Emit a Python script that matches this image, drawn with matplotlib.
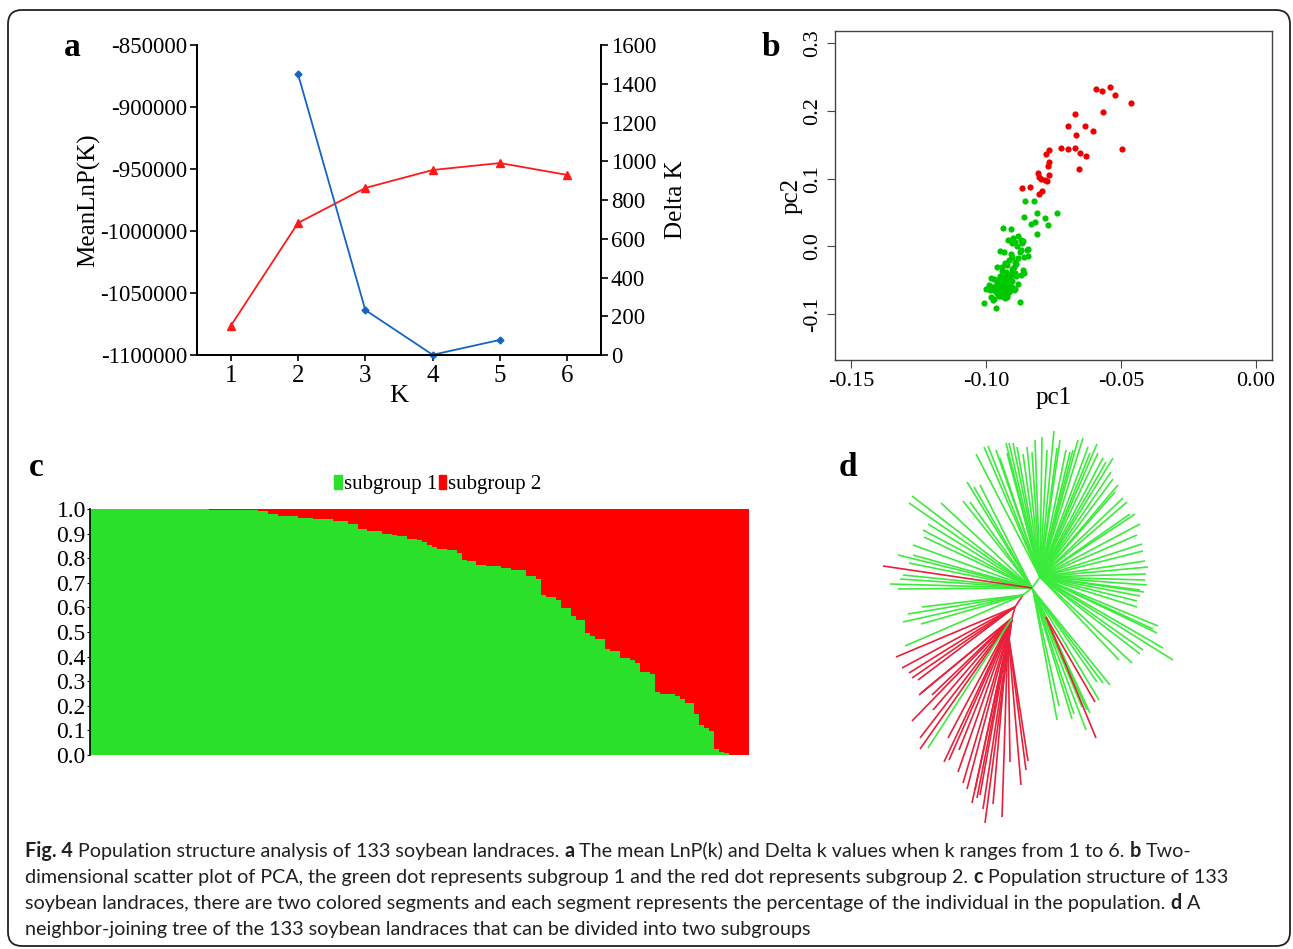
import numpy as np
import matplotlib
matplotlib.use('Agg')
import matplotlib.pyplot as plt
from matplotlib import font_manager
from matplotlib.patches import FancyBboxPatch, Patch
from matplotlib.collections import LineCollection

W, H = 1293, 949

# ---------------- data ----------------
# a: choice of K
k_values = [1, 2, 3, 4, 5, 6]
mean_lnp = [-1076600, -993500, -965300, -950800, -945200, -954800]
delta_k_pos = [2, 3, 4, 5]
delta_k = [1450, 232, 1, 78]

# b: PCA
red_pc1 = [-0.0592, -0.0570, -0.0539, -0.0523, -0.0463, -0.0568, -0.0669, -0.0697,
           -0.0634, -0.0603, -0.0666, -0.0496, -0.0724, -0.0697, -0.0669, -0.0650,
           -0.0628, -0.0656, -0.0765, -0.0777, -0.0765, -0.0769, -0.0808, -0.0804,
           -0.0798, -0.0767, -0.0783, -0.0773, -0.0794, -0.0802, -0.0868, -0.0838]
red_pc2 = [0.232, 0.229, 0.235, 0.223, 0.211, 0.198, 0.195, 0.178,
           0.178, 0.171, 0.165, 0.144, 0.145, 0.144, 0.145, 0.138,
           0.133, 0.114, 0.142, 0.137, 0.124, 0.119, 0.108, 0.103,
           0.0995, 0.105, 0.098, 0.0966, 0.0818, 0.0778, 0.0867, 0.0872]
green_pc1 = [-0.0854, -0.0824, -0.0860, -0.0811, -0.0781, -0.0736, -0.0832, -0.0820,
             -0.0769, -0.0811, -0.0937, -0.0909, -0.0881, -0.0918, -0.0905, -0.0893,
             -0.0863, -0.0866, -0.0948, -0.0933, -0.0872, -0.0846, -0.0860, -0.0909,
             -0.0903, -0.0930, -0.0921, -0.0893, -0.0888, -0.0940, -0.0958, -0.0903,
             -0.0891, -0.0863, -0.0860, -0.0909, -0.0982, -0.0970, -0.0958, -0.0946,
             -0.0924, -0.0933, -0.0988, -0.0976, -0.0964, -0.0952, -0.0940, -0.0927,
             -0.0915, -0.0903, -0.0891, -0.1001, -0.0970, -0.0958, -0.0946, -0.0933,
             -0.0921, -0.0897, -0.0982, -0.0970, -0.0952, -0.0933, -0.0921, -0.1007,
             -0.0976, -0.0964, -0.0875,
             -0.0960, -0.0950, -0.0945, -0.0935, -0.0925, -0.0915, -0.0955, -0.0965,
             -0.0940, -0.0930, -0.0920, -0.0910, -0.0935, -0.0950, -0.0905, -0.0895,
             -0.0915, -0.0880, -0.0875, -0.0885, -0.0870, -0.0900, -0.0850, -0.0890,
             -0.0880, -0.0945, -0.0955, -0.0985, -0.0925, -0.0940, -0.0960, -0.0905,
             -0.0930, -0.0915, -0.0870, -0.0845]
green_pc2 = [0.0670, 0.0670, 0.0438, 0.0497, 0.0414, 0.0497, 0.0330, 0.0365,
             0.0315, 0.0182, 0.0276, 0.0256, 0.0153, 0.0093, 0.0054, 0.0069,
             0.0084, 0.0044, -0.0064, -0.0089, -0.0055, -0.0143, -0.0163, -0.0114,
             -0.0163, -0.0242, -0.0276, -0.0227, -0.0262, -0.0301, -0.0301, -0.0375,
             -0.0390, -0.0350, -0.0390, -0.0424, -0.0474, -0.0488, -0.0498, -0.0474,
             -0.0459, -0.0523, -0.0572, -0.0597, -0.0587, -0.0621, -0.0607, -0.0587,
             -0.0572, -0.0607, -0.0636, -0.0636, -0.0646, -0.0685, -0.0705, -0.0671,
             -0.0720, -0.0646, -0.0745, -0.0784, -0.0735, -0.0745, -0.0755, -0.0843,
             -0.0794, -0.0917, -0.0819,
             -0.0540, -0.0560, -0.0650, -0.0690, -0.0640, -0.0600, -0.0600, -0.0680,
             -0.0580, -0.0550, -0.0500, -0.0470, -0.0450, -0.0440, -0.0330, -0.0300,
             -0.0200, -0.0180, -0.0080, 0.0010, 0.0100, 0.0120, -0.0060, -0.0440,
             -0.0560, -0.0730, -0.0700, -0.0650, -0.0380, -0.0360, -0.0660, -0.0520,
             -0.0760, -0.0680, -0.0420, -0.0040]

# c: membership of subgroup 1 for the 133 landraces (sorted)
subgroup1_q = ([1.0] * 24 + [0.996] * 10 + [0.99] * 2 + [0.98] * 2 + [0.97] * 4 +
               [0.965] * 3 + [0.96] * 4 + [0.95] * 3 + [0.94] * 2 + [0.92] * 2 +
               [0.91] * 3 + [0.90] * 2 + [0.895] +
               [0.889] * 2 + [0.878] * 2 + [0.876, 0.865, 0.855, 0.846] +
               [0.838] * 2 + [0.832] * 2 + [0.821, 0.794] + [0.787] * 2 +
               [0.774] * 2 + [0.767] * 3 + [0.760] * 2 + [0.751] * 3 +
               [0.729] * 2 + [0.715, 0.652] + [0.642] * 2 + [0.631] +
               [0.597] * 2 + [0.566] + [0.550] * 2 + [0.495, 0.482] +
               [0.471] * 2 + [0.430] + [0.421] * 2 + [0.394] * 2 + [0.387, 0.376] +
               [0.338] * 2 + [0.330, 0.258] + [0.248] * 3 + [0.240, 0.227] +
               [0.210] * 2 + [0.167, 0.122, 0.109, 0.099, 0.023, 0.014, 0.007] +
               [0.0] * 4)

# d: neighbour-joining tree (layout units = picture pixels)
node_x = [1040, 1032, 1023, 1015, 1012, 1033, 1046, 1008]
node_y = [577, 588, 595, 607, 618, 590, 617, 632]
node_parent = [-1, 0, 1, 2, 3, 1, 5, 4]
node_group = [1, 1, 1, 2, 2, 1, 1, 2]

leaf_x = [976, 984, 988, 996, 1006, 1009, 1007, 1013, 1017, 1023, 1027, 1032, 1035, 1042,
          1047, 1054, 1057, 1066, 1070, 1073, 1078, 1083, 1090, 1097, 1098, 1103, 1106,
          1113, 1111, 1113, 1115, 1123, 1127, 1130, 1135, 1140, 1137, 1142, 1143, 1145,
          1148, 1146, 1145, 1147, 1144, 1000, 1060, 1088, 1118,
          1140, 1140, 1137, 1137, 1158, 1153, 1157, 1163, 1173, 1143, 1140, 1132, 1119,
          1057, 1072, 1074, 1059, 1086, 1099, 1110, 1103, 1097, 1090, 1087, 1082,
          1096, 1095,
          967, 974, 980, 970, 963, 941, 912, 909, 928, 923, 924, 913, 913, 898, 909,
          903, 900, 890, 898, 883,
          922, 908, 903, 921, 905,
          896, 902, 909, 912, 918,
          919, 921, 932, 912, 920, 920, 933, 944, 948, 949, 958, 959, 963, 967, 972,
          977, 980, 983, 985, 975, 928,
          993, 1002, 1010, 1021, 1026, 1028]
leaf_y = [454, 447, 446, 450, 443, 443, 453, 443, 447, 454, 447, 452, 440, 437,
          450, 431, 448, 450, 452, 450, 440, 438, 453, 444, 453, 458, 462,
          458, 472, 479, 492, 498, 502, 514, 514, 524, 535, 544, 551, 561,
          567, 574, 580, 585, 592, 458, 440, 447, 485,
          590, 596, 601, 607, 626, 629, 633, 648, 660, 650, 654, 663, 660,
          720, 719, 714, 706, 730, 700, 685, 683, 682, 713, 710, 707,
          738, 702,
          482, 487, 485, 502, 501, 503, 496, 503, 524, 530, 537, 545, 555, 555, 563,
          575, 579, 584, 589, 566,
          607, 614, 622, 624, 646,
          657, 668, 673, 678, 680,
          695, 693, 695, 721, 738, 749, 710, 762, 738, 760, 772, 750, 783, 789, 803,
          798, 795, 809, 823, 790, 748,
          804, 817, 762, 785, 770, 761]
leaf_node = [0] * 49 + [0] * 13 + [5] * 12 + [6] * 2 + [1] * 20 + [2] * 5 + [3] * 5 + [4] * 21 + [7] * 6
leaf_group = ([1] * 49 + [1] * 13 + [1] * 12 + [2] * 2 + [1] * 19 + [2] + [1] * 5 +
              [2] * 5 + [2] * 20 + [1] + [2] * 6)

# ---------------- style ----------------
plt.rcParams['font.family'] = ['Liberation Serif', 'DejaVu Serif']
plt.rcParams['axes.unicode_minus'] = False

names = {f.name for f in font_manager.fontManager.ttflist}
if 'Liberation Sans Narrow' in names:
    cap_font = 'Liberation Sans Narrow'
elif 'Lato' in names:
    cap_font = 'Lato'
else:
    cap_font = 'Open Sans'

fig = plt.figure(figsize=(W / 100, H / 100), dpi=100)


def rect(x0, y0, x1, y1):
    return [x0 / W, 1 - y1 / H, (x1 - x0) / W, (y1 - y0) / H]


# background layer: frame, panel letters, caption
bg = fig.add_axes([0, 0, 1, 1])
bg.set_xlim(0, W)
bg.set_ylim(H, 0)
bg.axis('off')
bg.add_patch(FancyBboxPatch((8, 10), 1282, 936, boxstyle='round,pad=0,rounding_size=14',
                            fill=False, lw=1.3, ec='#222222'))
for letter, lx, ly in [('a', 72, 47), ('b', 771, 47), ('c', 36, 467), ('d', 848, 467)]:
    bg.text(lx, ly, letter, fontsize=24, fontweight='bold', ha='center', va='center')

# ---------------- a ----------------
ax_a = fig.add_axes(rect(197, 45, 601, 355))
ax_a.plot(k_values, mean_lnp, color='#FF1A1A', lw=1.3, marker='^', ms=5.5, clip_on=False)
ax_a.set_xlim(0.5, 6.5)
ax_a.set_ylim(-1100000, -850000)
lnp_ticks = list(range(-1100000, -849999, 50000))
ax_a.set_yticks(lnp_ticks)
ax_a.set_yticklabels([str(v) for v in lnp_ticks])
ax_a.set_xticks(k_values)
ax_a.spines['top'].set_visible(False)
for s in ax_a.spines.values():
    s.set_linewidth(1.3)
ax_a.tick_params(axis='y', labelsize=16.5, length=5, width=1.2, pad=2)
ax_a.tick_params(axis='x', labelsize=18, length=4, width=1.2, pad=3)
ax_a.set_ylabel('MeanLnP(K)', fontsize=18, labelpad=0)
ax_a.set_xlabel('K', fontsize=19, labelpad=-1)

ax_a2 = ax_a.twinx()
ax_a2.plot(delta_k_pos, delta_k, color='#1565C0', lw=1.3, marker='D', ms=3.5, clip_on=False)
ax_a2.set_ylim(0, 1600)
ax_a2.set_yticks(range(0, 1601, 200))
ax_a2.spines['top'].set_visible(False)
for s in ax_a2.spines.values():
    s.set_linewidth(1.3)
ax_a2.tick_params(labelsize=16.5, length=5, width=1.2, pad=2)
ax_a2.set_ylabel('Delta K', fontsize=18, labelpad=6)

# ---------------- b ----------------
ax_b = fig.add_axes(rect(835, 31, 1272, 360))
ax_b.scatter(green_pc1, green_pc2, s=20, color='#00C800', linewidths=0)
ax_b.scatter(red_pc1, red_pc2, s=20, color='#EE0000', linewidths=0)
ax_b.set_xlim(-0.156, 0.006)
ax_b.set_ylim(-0.168, 0.318)
ax_b.set_xticks([-0.15, -0.10, -0.05, 0.00])
ax_b.set_xticklabels(['-0.15', '-0.10', '-0.05', '0.00'])
ax_b.set_yticks([-0.1, 0.0, 0.1, 0.2, 0.3])
ax_b.set_yticklabels(['-0.1', '0.0', '0.1', '0.2', '0.3'], rotation=90, va='center')
for s in ax_b.spines.values():
    s.set_color('#444444')
    s.set_linewidth(1.0)
ax_b.tick_params(labelsize=16, length=6, color='#444444', pad=3)
ax_b.set_xlabel('pc1', fontsize=18, labelpad=-3)
ax_b.set_ylabel('pc2', fontsize=18, labelpad=1)

# ---------------- c ----------------
ax_c = fig.add_axes(rect(90, 509, 749, 755))
q = np.array(subgroup1_q)
edges = np.arange(len(q) + 1)
ax_c.stairs(q, edges, baseline=0, fill=True, color='#2BE02B')
ax_c.stairs(np.ones(len(q)), edges, baseline=q, fill=True, color='#FF0000')
ax_c.set_xlim(0, len(q))
ax_c.set_ylim(0, 1)
for side in ['top', 'right', 'bottom']:
    ax_c.spines[side].set_visible(False)
ax_c.spines['left'].set_linewidth(1.2)
ax_c.set_xticks([])
ax_c.set_yticks(np.arange(0, 1.01, 0.1))
ax_c.set_yticklabels(['%.1f' % v for v in np.arange(0, 1.01, 0.1)])
ax_c.tick_params(labelsize=17, length=2, pad=1)
ax_c.legend(handles=[Patch(color='#2BE02B', label='subgroup 1'),
                     Patch(color='#FF0000', label='subgroup 2')],
            ncol=2, loc='center', bbox_to_anchor=(0.528, 1.10), frameon=False,
            fontsize=15, handlelength=0.35, handleheight=0.7, handletextpad=0.1,
            columnspacing=0.1, borderpad=0)

# ---------------- d ----------------
ax_d = fig.add_axes(rect(860, 425, 1200, 830))
ax_d.set_xlim(860, 1200)
ax_d.set_ylim(830, 425)
ax_d.axis('off')
tree_colors = {1: '#3DEB3D', 2: '#E8203A'}
segs, cols = [], []
for i, p in enumerate(node_parent):
    if p >= 0:
        segs.append([(node_x[p], node_y[p]), (node_x[i], node_y[i])])
        cols.append(tree_colors[node_group[i]])
for lx, ly, n, g in zip(leaf_x, leaf_y, leaf_node, leaf_group):
    segs.append([(node_x[n], node_y[n]), (lx, ly)])
    cols.append(tree_colors[g])
ax_d.add_collection(LineCollection(segs, colors=cols, linewidths=1.2))

# ---------------- caption ----------------
cap_lines = [
    [('Fig. 4', True), ('Population structure analysis of 133 soybean landraces.', False),
     ('a', True), ('The mean LnP(k) and Delta k values when k ranges from 1 to 6.', False),
     ('b', True), ('Two-', False)],
    [('dimensional scatter plot of PCA, the green dot represents subgroup 1 and the red dot '
      'represents subgroup 2.', False), ('c', True), ('Population structure of 133', False)],
    [('soybean landraces, there are two colored segments and each segment represents the '
      'percentage of the individual in the population.', False), ('d', True), ('A', False)],
    [('neighbor-joining tree of the 133 soybean landraces that can be divided into two '
      'subgroups', False)],
]
renderer = fig.canvas.get_renderer()


def text_w(s, size, bold):
    t = bg.text(0, 0, s, fontsize=size, family=cap_font, fontweight='bold' if bold else 'normal')
    w = t.get_window_extent(renderer).width
    t.remove()
    return w


def line_w(parts, size):
    sp = text_w('a a', size, False) - text_w('aa', size, False)
    return sum(text_w(s, size, b) for s, b in parts) + sp * (len(parts) - 1)


cap_size = 10 * 1171 / line_w(cap_lines[0], 10)
space = text_w('a a', cap_size, False) - text_w('aa', cap_size, False)
for parts, base in zip(cap_lines, [857, 883, 909, 935]):
    x = 25
    for s, b in parts:
        bg.text(x, base, s, fontsize=cap_size, family=cap_font, color='#231F20',
                fontweight='bold' if b else 'normal', va='baseline', ha='left')
        x += text_w(s, cap_size, b) + space

fig.savefig('out.png', dpi=100)
